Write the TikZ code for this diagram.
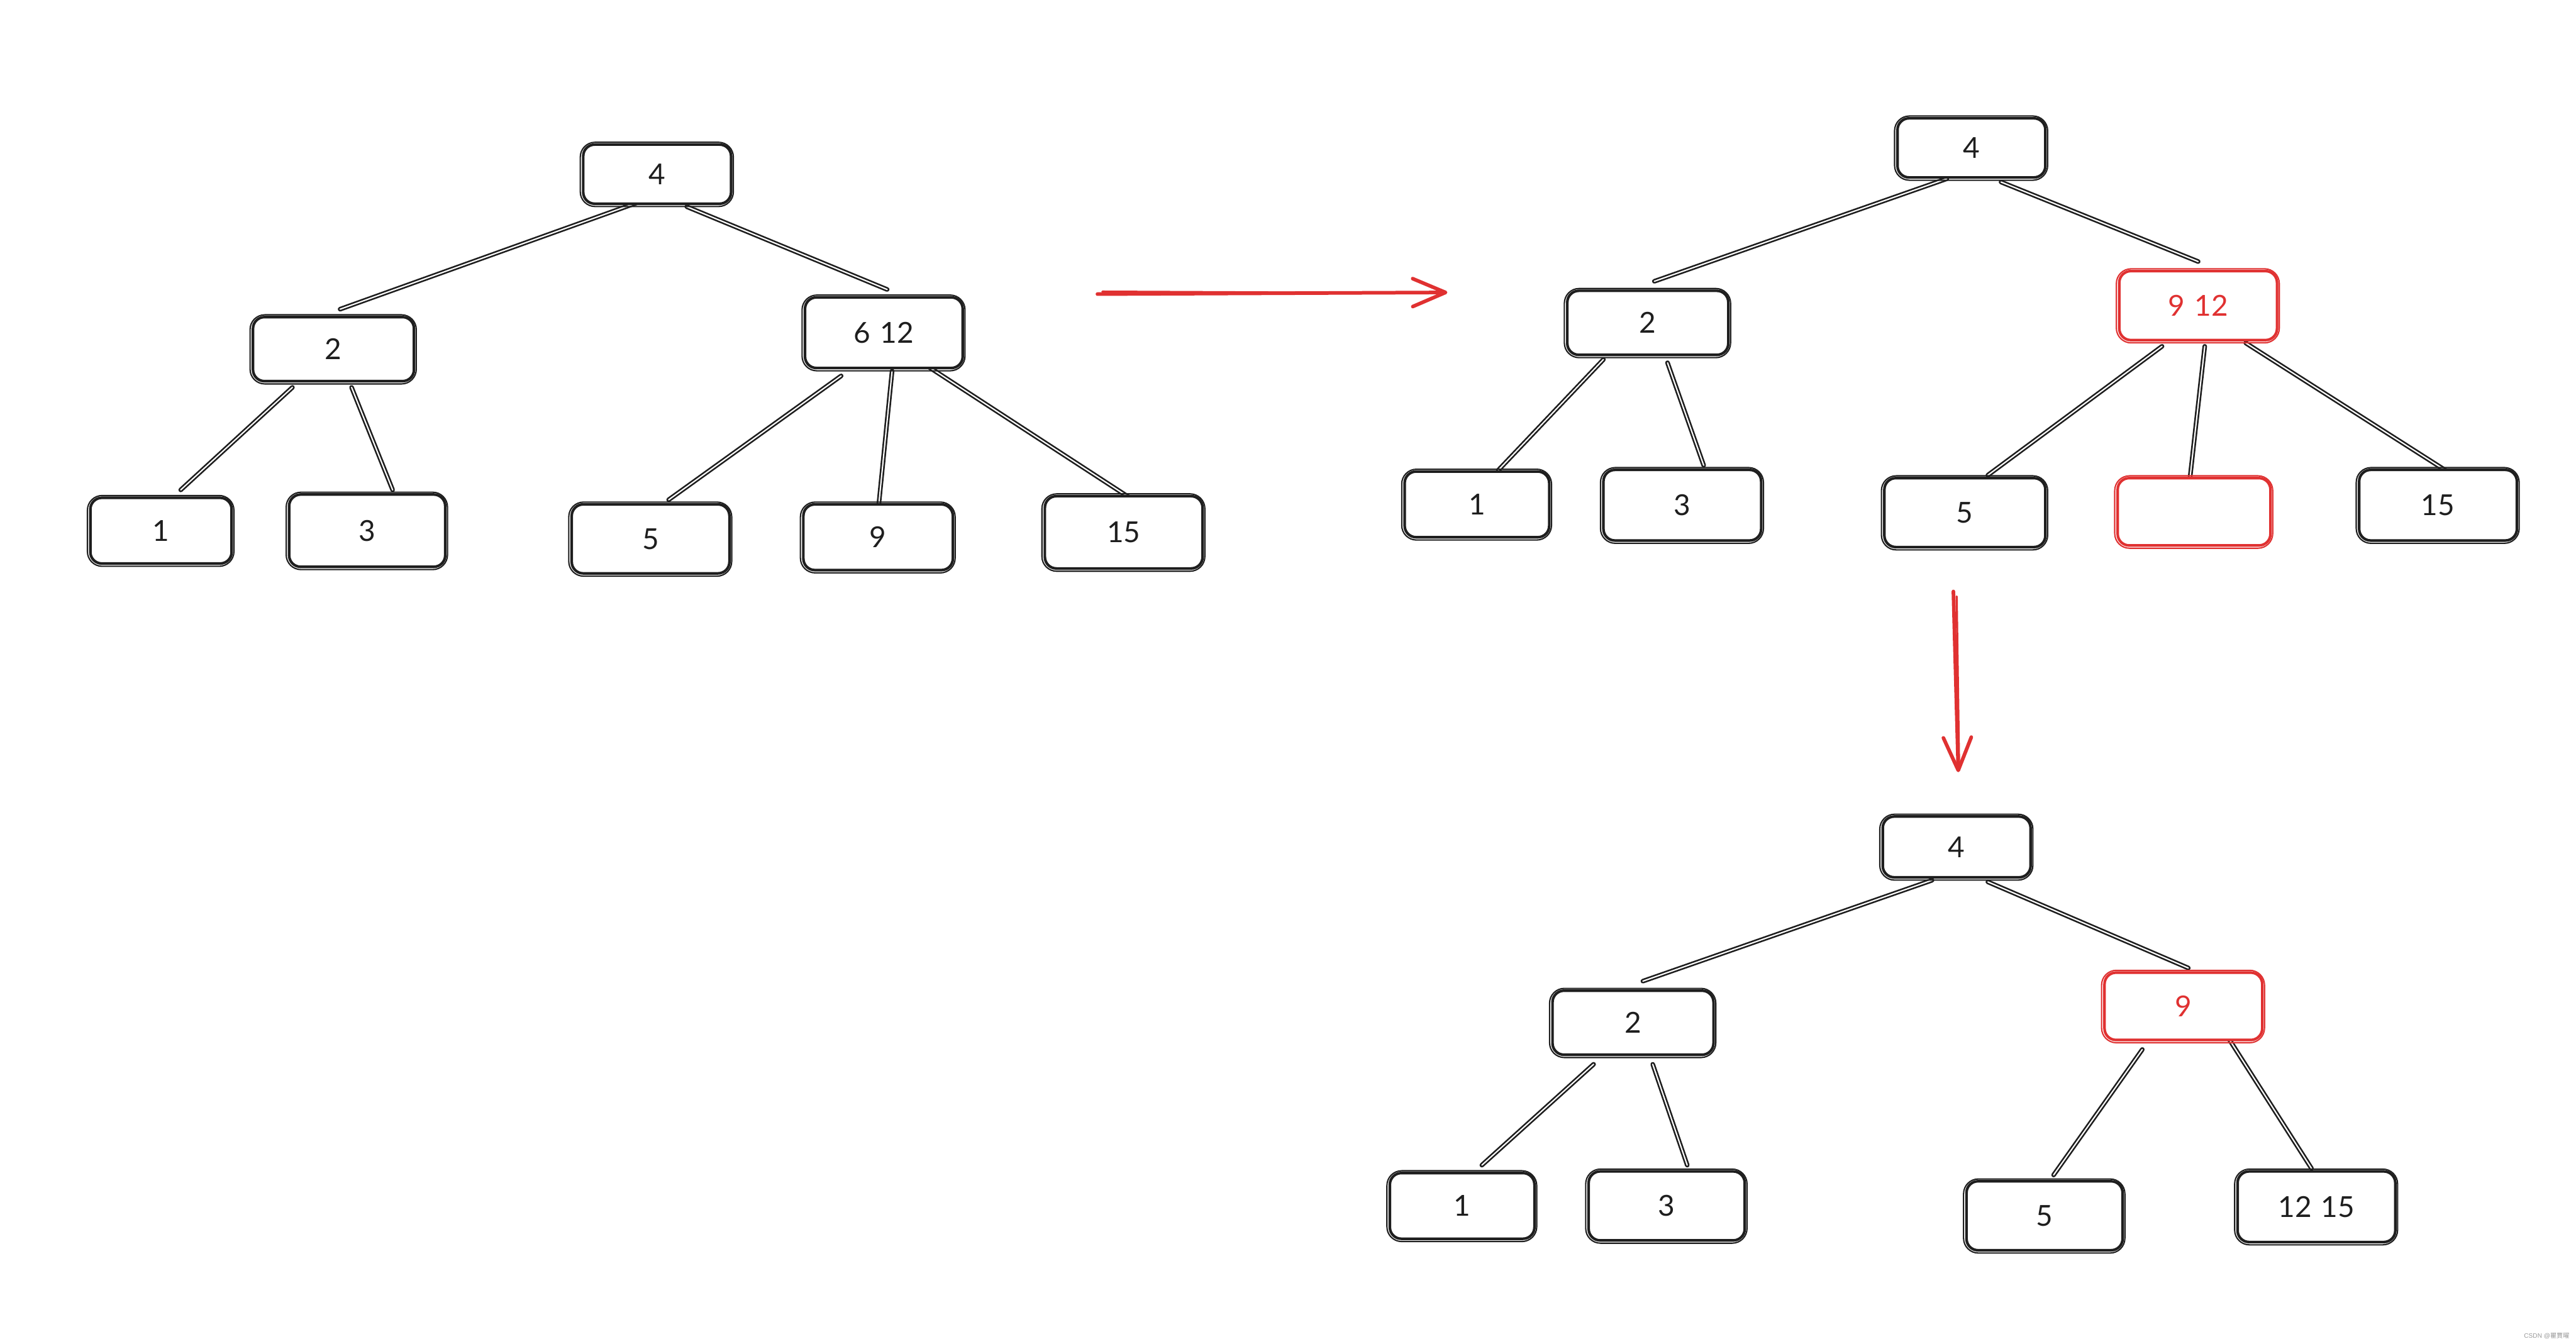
\documentclass[tikz,border=0pt]{standalone}
\usepackage{fontspec}
\setmainfont{Lato}
\newfontfamily\cjkfont{Noto Sans CJK SC}
\newfontfamily\wmfont{Liberation Sans}
\usetikzlibrary{arrows.meta,calc,backgrounds}
\definecolor{ink}{HTML}{1E1E1E}
\definecolor{redink}{HTML}{E03131}
\definecolor{wmgray}{HTML}{9A9A9A}
\begin{document}
\begin{tikzpicture}[x=1mm,y=-1mm,
  bx/.style={draw=ink, line width=1.6mm, rounded corners=7mm, fill=white, text=ink,
    font=\fontsize{50}{58}\selectfont, inner sep=0pt},
  rbx/.style={bx, draw=redink, text=redink},
  edge/.style={draw=ink, line width=1.0mm, double=white, double distance=0.8mm, line cap=round},
  redarrow/.style={draw=redink, line width=2.2mm, line cap=round,
    -{Straight Barb[length=20mm,width=17mm,round]}},
  redline/.style={draw=redink, line width=1.3mm, line cap=round},
  echo/.style={line width=0.8mm, rounded corners=9mm}
]
\useasboundingbox (0,0) rectangle (1568,818);

% ---------- tree 1 ----------
\node[bx, minimum width=90mm, minimum height=36mm] (a4) at (400,106) {4};
\node[bx, minimum width=98mm, minimum height=39mm] (a2) at (203,212.5) {2};
\node[bx, minimum width=96mm, minimum height=43mm] (a612) at (538,202.5) {6\,\,12};
\node[bx, minimum width=86mm, minimum height=40mm] (a1) at (98,323) {1};
\node[bx, minimum width=95mm, minimum height=44mm] (a3) at (223.5,323) {3};
\node[bx, minimum width=96mm, minimum height=42mm] (a5) at (396,328) {5};
\node[bx, minimum width=91mm, minimum height=40mm] (a9) at (534.5,327) {9};
\node[bx, minimum width=96mm, minimum height=44mm] (a15) at (684,324) {15};

% ---------- tree 2 ----------
\node[bx, minimum width=90mm, minimum height=36mm] (b4) at (1200,90) {4};
\node[bx, minimum width=98mm, minimum height=39mm] (b2) at (1003,196.5) {2};
\node[rbx, minimum width=96mm, minimum height=42mm] (b912) at (1338,186) {9\,\,12};
\node[bx, minimum width=88mm, minimum height=40mm] (b1) at (899,307) {1};
\node[bx, minimum width=96mm, minimum height=43mm] (b3) at (1024,307.5) {3};
\node[bx, minimum width=98mm, minimum height=42mm] (b5) at (1196,312) {5};
\node[rbx, minimum width=93mm, minimum height=41mm] (be) at (1335.5,311.5) {};
\node[bx, minimum width=96mm, minimum height=43mm] (b15) at (1484,307.5) {15};

% ---------- tree 3 ----------
\node[bx, minimum width=90mm, minimum height=37mm] (c4) at (1191,515.5) {4};
\node[bx, minimum width=98mm, minimum height=39mm] (c2) at (994,622.5) {2};
\node[rbx, minimum width=96mm, minimum height=41mm] (c9) at (1329,612.5) {9};
\node[bx, minimum width=88mm, minimum height=40mm] (c1) at (890,734) {1};
\node[bx, minimum width=95mm, minimum height=42mm] (c3) at (1014.5,734) {3};
\node[bx, minimum width=95mm, minimum height=42mm] (c5) at (1244.5,740) {5};
\node[bx, minimum width=96mm, minimum height=43mm] (c1215) at (1410,734.5) {12\,\,15};

% sketchy second outlines
\foreach \n/\c in {a4/ink,a2/ink,a612/ink,a1/ink,a3/ink,a5/ink,a9/ink,a15/ink,
                   b4/ink,b2/ink,b912/redink,b1/ink,b3/ink,b5/ink,be/redink,b15/ink,
                   c4/ink,c2/ink,c9/redink,c1/ink,c3/ink,c5/ink,c1215/ink}
  \draw[draw=\c, echo] ([shift={(-1.0,-0.6)}]\n.north west) rectangle ([shift={(0.6,0.9)}]\n.south east);

\begin{pgfonlayer}{background}
\fill[white] (0,0) rectangle (1568,818);
% tree 1 edges
\draw[edge] ($(a4.south)+(-5,-4)$) -- ($(a2.north)+(4,-4)$);
\draw[edge] ($(a4.south)+(18,1)$) -- ($(a612.north)+(2,-4)$);
\draw[edge] ($(a2.south)+(-25,3)$) -- ($(a1.north)+(12,-4)$);
\draw[edge] ($(a2.south)+(11,3)$) -- ($(a3.north)+(15.5,-2)$);
\draw[edge] ($(a612.south)+(-26,4)$) -- ($(a5.north)+(11,-2)$);
\draw[edge] ($(a612.south)+(5,1)$) -- ($(a9.north)+(0.5,0)$);
\draw[edge] ($(a612.south)+(28,-1)$) -- ($(a15.north)+(4,2)$);
% tree 2 edges
\draw[edge] ($(b4.south)+(-15,0)$) -- ($(b2.north)+(4,-5)$);
\draw[edge] ($(b4.south)+(18,2)$) -- ($(b912.north)+(0,-5)$);
\draw[edge] ($(b2.south)+(-27,2)$) -- ($(b1.north)+(13,0)$);
\draw[edge] ($(b2.south)+(12,4)$) -- ($(b3.north)+(13,-2)$);
\draw[edge] ($(b912.south)+(-22,3)$) -- ($(b5.north)+(14,-1)$);
\draw[edge] ($(b912.south)+(4,3)$) -- ($(be.north)+(-2.5,1)$);
\draw[edge] ($(b912.south)+(29,1)$) -- ($(b15.north)+(6,2)$);
% tree 3 edges
\draw[edge] ($(c4.south)+(-15,1)$) -- ($(c2.north)+(6,-5)$);
\draw[edge] ($(c4.south)+(19,2)$) -- ($(c9.north)+(3,-2)$);
\draw[edge] ($(c2.south)+(-24,5)$) -- ($(c1.north)+(12,-4)$);
\draw[edge] ($(c2.south)+(12,5)$) -- ($(c3.north)+(12.5,-3)$);
\draw[edge] ($(c9.south)+(-25,5)$) -- ($(c5.north)+(5.5,-3)$);
\draw[edge] ($(c9.south)+(28,-1)$) -- ($(c1215.north)+(-3,-1)$);
\end{pgfonlayer}

% red arrows
\coordinate (h1) at (668,179);
\coordinate (h2) at (881,178);
\draw[redarrow] (h1) -- (h2);
\draw[redline] ($(h1)+(3,-1.5)$) -- ($(h2)+(-2,0.5)$);
\coordinate (v1) at (1189,360);
\coordinate (v2) at (1192,470);
\draw[redarrow] (v1) -- (v2);
\draw[redline] ($(v1)+(2,3)$) -- ($(v2)+(0.5,-2)$);

% watermark
\node[anchor=east, text=wmgray, font=\wmfont\fontsize{11}{12}\selectfont, inner sep=0pt]
  (wm) at (1564,813.3) {CSDN @{\cjkfont 瞿賈曜}};
\end{tikzpicture}
\end{document}
